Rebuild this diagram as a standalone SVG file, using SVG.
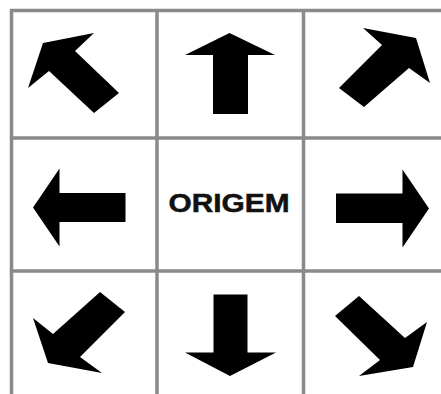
<svg xmlns="http://www.w3.org/2000/svg" width="441" height="394" viewBox="0 0 441 394">
<style>
.grid{stroke:#8a8a8a;stroke-width:3.5;fill:none}
.arrow{fill:#000}
.label{font-family:"Liberation Sans",Arial,sans-serif;font-weight:bold;font-size:25.5px;fill:#111;stroke:#111;stroke-width:0.5}
</style>
<rect width="441" height="394" fill="#fff"/>
<g id="grid">
<line class="grid" x1="11.5" y1="9" x2="11.5" y2="394"/>
<line class="grid" x1="157" y1="9" x2="157" y2="394"/>
<line class="grid" x1="303.5" y1="9" x2="303.5" y2="394"/>
<line class="grid" x1="10" y1="10.5" x2="441" y2="10.5"/>
<line class="grid" x1="10" y1="138" x2="441" y2="138"/>
<line class="grid" x1="10" y1="271" x2="441" y2="271"/>
</g>
<g id="up-left"><polygon class="arrow" points="43,43 94,33 75,51 119,93 94,113 49,71 28,88"/></g>
<g id="up"><polygon class="arrow" points="229.5,33 275,55 248,55 248,114 213,114 213,55 185,55"/></g>
<g id="up-right"><polygon class="arrow" points="416,38 430,83 409,68 364,107 339,88 382,45 363,28"/></g>
<g id="left"><polygon class="arrow" points="33,207.5 59.5,168.5 59.5,193 125.5,193 125.5,222 59.5,222 59.5,246.5"/></g>
<g id="origin"><text class="label" x="168.5" y="211.5" textLength="121" lengthAdjust="spacingAndGlyphs">ORIGEM</text></g>
<g id="right"><polygon class="arrow" points="429,208.5 402.5,169.5 402.5,193.5 336,193.5 336,223 402.5,223 402.5,247.5"/></g>
<g id="down-left"><polygon class="arrow" points="100,292 125,312 80,357 102,373 48,363 33,318 53,334"/></g>
<g id="down"><polygon class="arrow" points="230,376 276,352.5 247.5,352.5 247.5,294.5 213.5,294.5 213.5,352.5 185,352.5"/></g>
<g id="down-right"><polygon class="arrow" points="359,296 405,338 427,322 413,367 359,376 380,360 335,316"/></g>
</svg>
